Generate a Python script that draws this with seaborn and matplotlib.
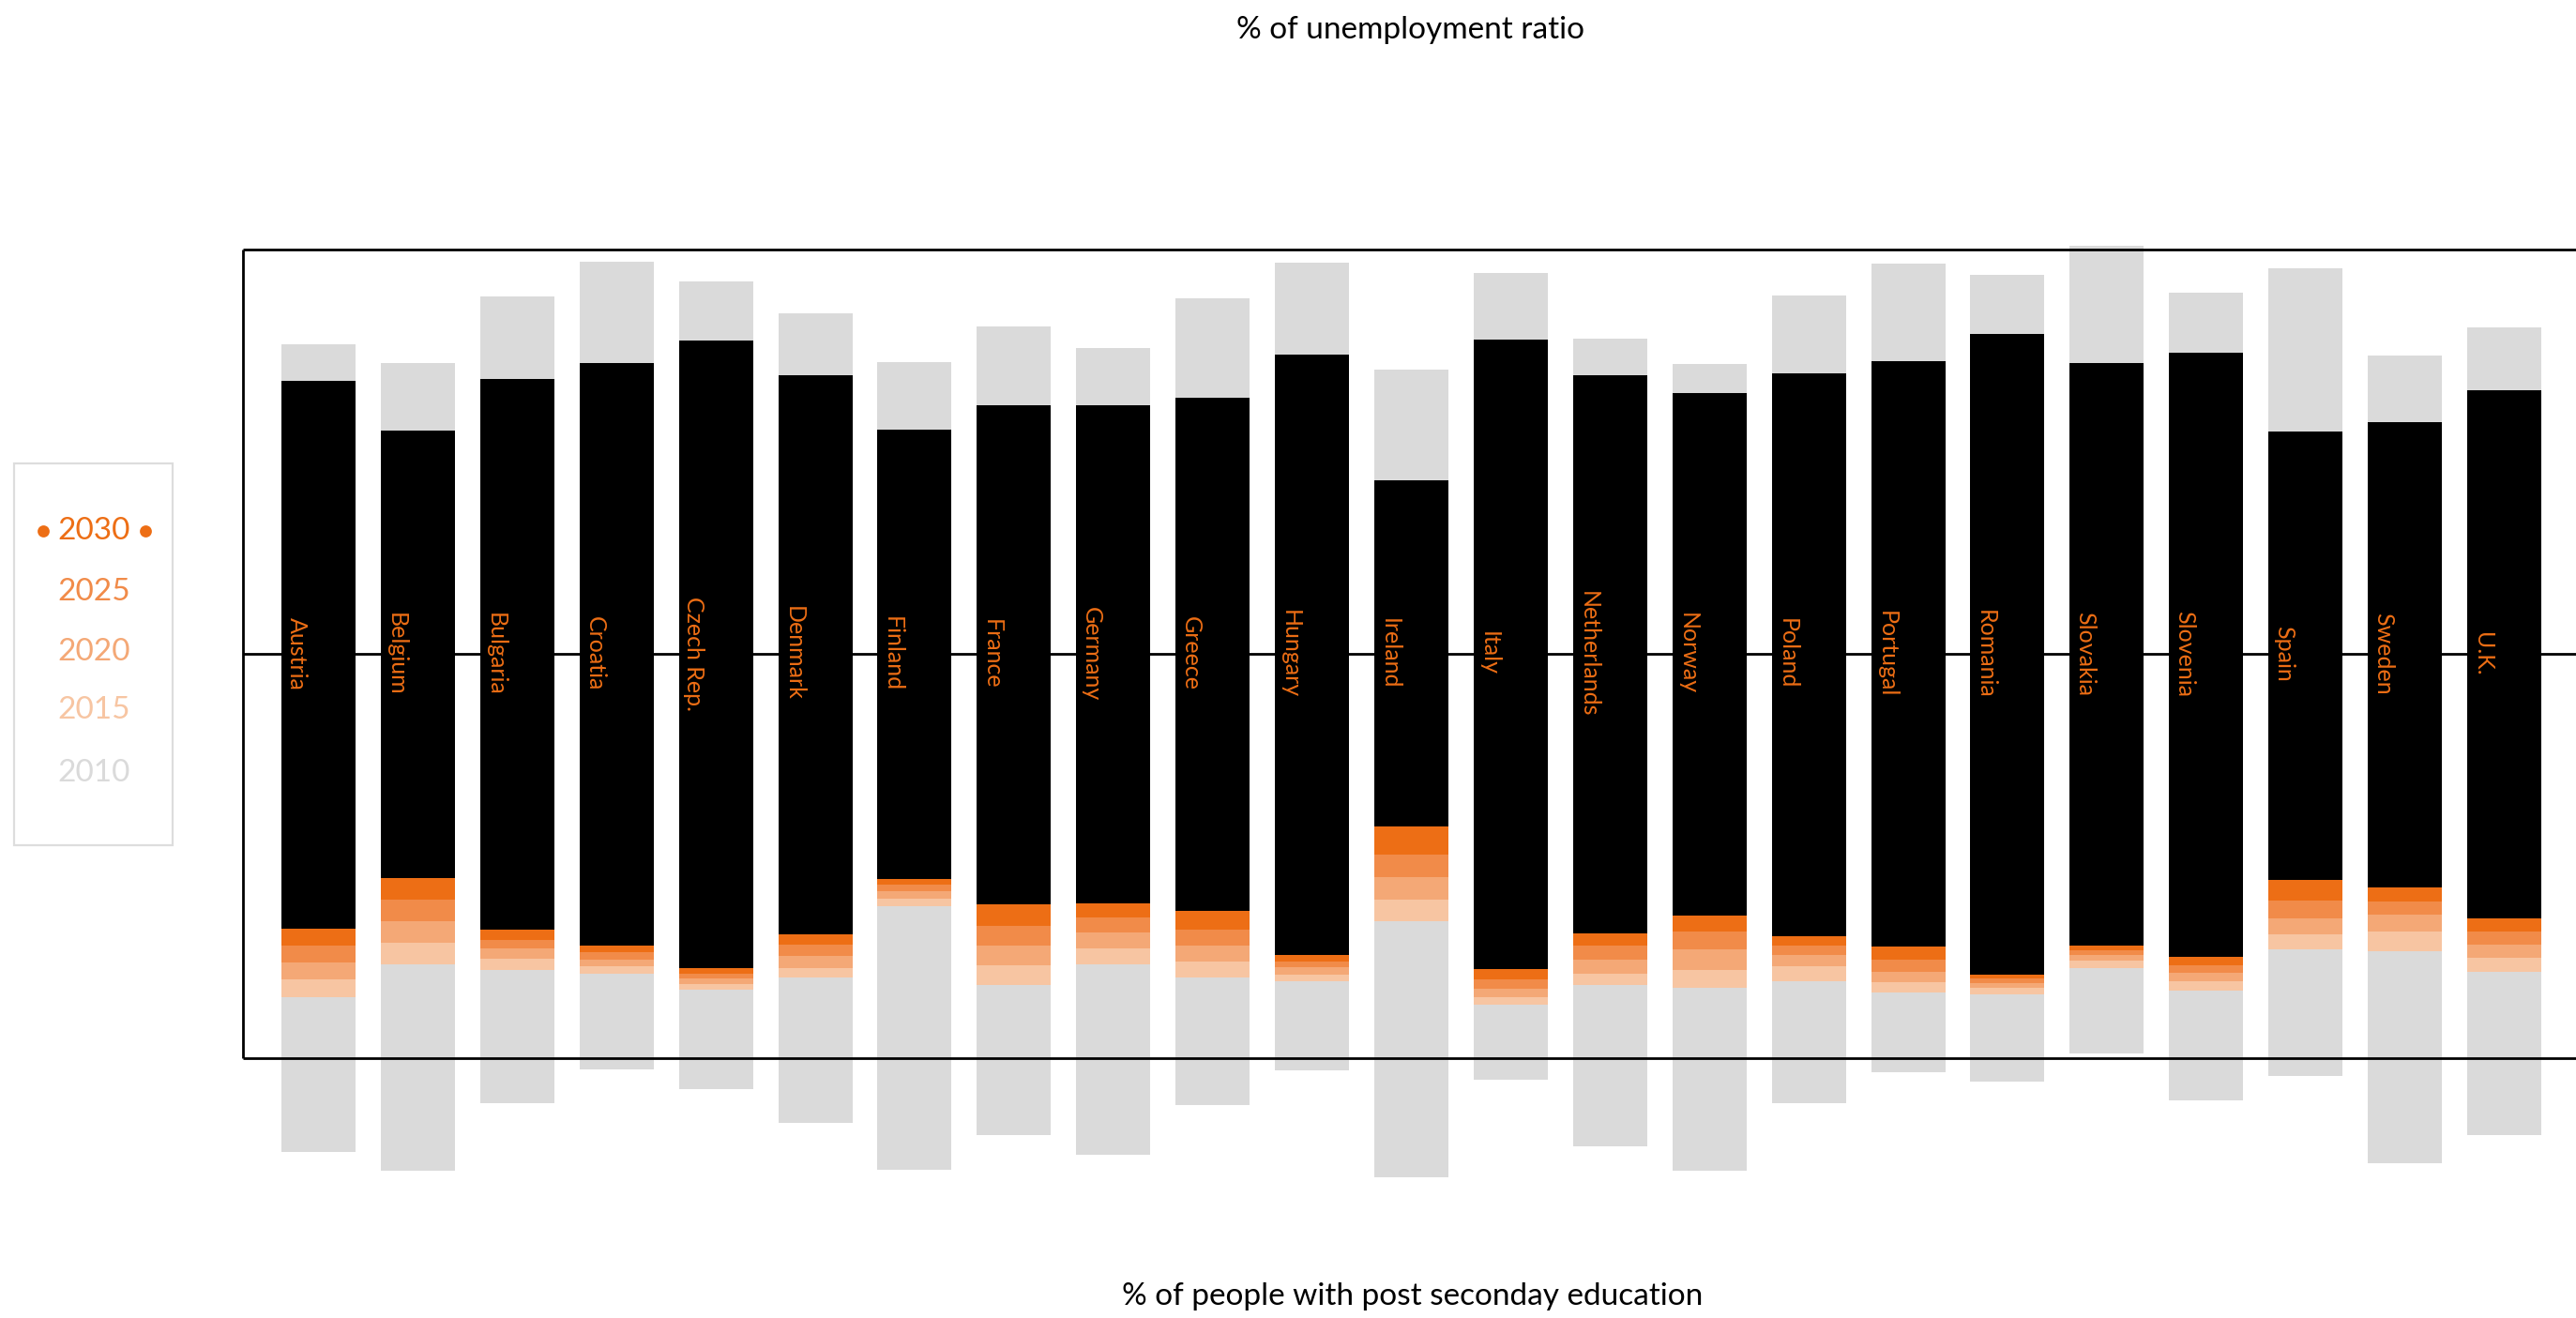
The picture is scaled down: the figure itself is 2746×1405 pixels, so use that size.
import matplotlib
matplotlib.use("Agg")

import matplotlib.pyplot as plt
from matplotlib.patches import Rectangle
import seaborn as sns

# Values are in frame units: the middle line is 0, the frame edges are +/-100.
COUNTRIES = ["Austria", "Belgium", "Bulgaria", "Croatia", "Czech Rep.", "Denmark",
             "Finland", "France", "Germany", "Greece", "Hungary", "Ireland", "Italy",
             "Netherlands", "Norway", "Poland", "Portugal", "Romania", "Slovakia",
             "Slovenia", "Spain", "Sweden", "U.K."]

GREY_TOP = [76.6, 71.9, 88.4, 97.0, 92.1, 84.2, 72.2, 81.0, 75.6, 87.9, 96.8, 70.3,
            94.2, 78.0, 71.7, 88.6, 96.5, 93.7, 100.9, 89.3, 95.4, 73.8, 80.7]
BLACK_TOP = [67.5, 55.2, 68.0, 71.9, 77.5, 68.9, 55.5, 61.5, 61.5, 63.3, 74.0, 42.9,
             77.7, 68.9, 64.5, 69.4, 72.4, 79.1, 71.9, 74.5, 55.0, 57.3, 65.2]
BLACK_BOTTOM = [-68.0, -55.5, -68.2, -72.2, -77.7, -69.4, -55.7, -61.9, -61.7, -63.6,
                -74.5, -42.7, -78.0, -69.1, -64.7, -69.8, -72.4, -79.4, -72.2, -74.9,
                -55.9, -57.8, -65.4]
BAND_2030 = [-72.2, -60.8, -70.8, -73.8, -79.1, -71.9, -57.1, -67.3, -65.2, -68.2,
             -76.1, -49.7, -80.5, -72.2, -68.7, -72.2, -75.6, -80.3, -73.3, -77.0,
             -61.0, -61.3, -68.7]
BAND_2025 = [-76.3, -66.1, -72.9, -75.6, -80.3, -74.7, -58.7, -72.2, -68.9, -72.2,
             -77.5, -55.2, -82.8, -75.6, -73.1, -74.5, -78.7, -81.4, -74.5, -78.9,
             -65.4, -64.5, -71.9]
BAND_2020 = [-80.5, -71.5, -75.4, -77.3, -81.7, -77.7, -60.6, -77.0, -72.9, -76.1,
             -79.4, -60.8, -84.9, -79.1, -78.2, -77.3, -81.2, -82.6, -75.9, -81.0,
             -69.4, -68.7, -75.2]
BAND_2015 = [-84.9, -76.8, -78.2, -79.1, -83.1, -80.0, -62.4, -81.9, -76.8, -80.0,
             -81.0, -66.1, -86.8, -81.9, -82.6, -81.0, -83.8, -84.2, -77.7, -83.3,
             -73.1, -73.5, -78.7]
GREY_BOTTOM = [-123.2, -127.8, -111.1, -102.8, -107.7, -116.0, -127.6, -119.0, -123.9,
               -111.6, -103.0, -129.5, -105.3, -121.8, -127.8, -111.1, -103.5, -105.8,
               -98.8, -110.4, -104.4, -126.0, -119.0]

LEGEND_YEARS = ["2030", "2025", "2020", "2015", "2010"]
YEAR_COLORS = ["#ED6E15", "#F18B49", "#F4A876", "#F7C5A2", "#DADADA"]
GREY = "#DADADA"

TOP_TITLE = "% of unemployment ratio"
BOTTOM_TITLE = "% of people with post seconday education"

sns.set_theme(style="white")
plt.rcParams["font.family"] = ["Lato", "DejaVu Sans"]

fig = plt.figure(figsize=(13.73, 7.025), dpi=200)
ax = fig.add_axes([0, 0, 1, 1])

bar_kws = dict(width=0.746, saturation=1, errorbar=None, linewidth=0,
               edgecolor="none", order=COUNTRIES, ax=ax)

# upper half: grey first, black over it
sns.barplot(x=COUNTRIES, y=GREY_TOP, color=GREY, **bar_kws)
sns.barplot(x=COUNTRIES, y=BLACK_TOP, color="black", **bar_kws)

# lower half: deepest layer first, each next one covers the part near the middle
lower = [(GREY_BOTTOM, GREY), (BAND_2015, YEAR_COLORS[3]), (BAND_2020, YEAR_COLORS[2]),
         (BAND_2025, YEAR_COLORS[1]), (BAND_2030, YEAR_COLORS[0]), (BLACK_BOTTOM, "black")]
for vals, col in lower:
    sns.barplot(x=COUNTRIES, y=vals, color=col, **bar_kws)

# frame: open to the right
x_left, x_right = -3.206, 22.722
frame_x = -0.760
line_kws = dict(color="black", linewidth=1.0, solid_capstyle="butt", zorder=5)
ax.plot([frame_x, x_right], [100, 100], **line_kws)
ax.plot([frame_x, x_right], [-100, -100], **line_kws)
ax.plot([frame_x, x_right], [0, 0], **line_kws)
ax.plot([frame_x, frame_x], [-100, 100], **line_kws)

for i, name in enumerate(COUNTRIES):
    ax.text(i - 0.22, 0, name, rotation=-90, ha="center", va="center",
            color=YEAR_COLORS[0], fontsize=9, zorder=6)

ax.set_xlim(x_left, x_right)
ax.set_ylim(-164.3, 161.7)
ax.axis("off")

# titles
fig.text(0.5477, 0.977, TOP_TITLE, ha="center", va="center", fontsize=12, color="black")
fig.text(0.5484, 0.0164, BOTTOM_TITLE, ha="center", va="center", fontsize=12, color="black")

# legend box on the left
fig.patches.append(Rectangle((0.00546, 0.3587), 0.0615, 0.2897, transform=fig.transFigure,
                             fill=False, edgecolor="#DDDDDD", linewidth=0.8))
legend_y = [0.5972, 0.5509, 0.5053, 0.4612, 0.4135]
for year, col, yy in zip(LEGEND_YEARS, YEAR_COLORS, legend_y):
    fig.text(0.0364, yy, year, ha="center", va="center", fontsize=12, color=col)
ax.plot([0.01675, 0.0564], [legend_y[0], legend_y[0]], "o", color=YEAR_COLORS[0],
        markersize=3.6, transform=fig.transFigure, clip_on=False)

fig.savefig("out.png", dpi=200)
plt.close(fig)
